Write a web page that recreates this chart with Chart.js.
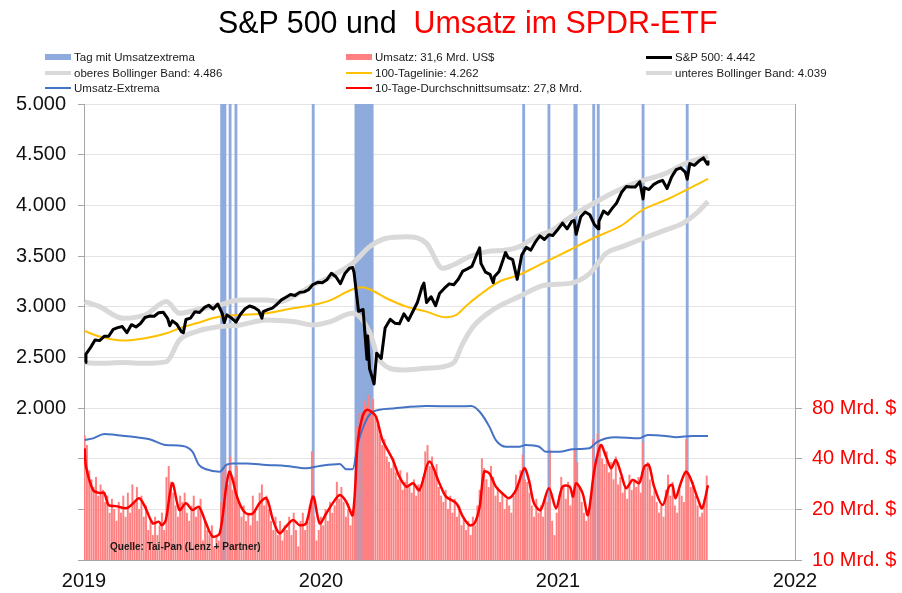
<!DOCTYPE html>
<html>
<head>
<meta charset="utf-8">
<script src="https://cdn.jsdelivr.net/npm/chart.js@4/dist/chart.umd.min.js"></script>
<style>
  html, body { margin:0; padding:0; background:#fff; }
  #wrap { position:relative; width:902px; height:593px; overflow:hidden; font-family:'Liberation Sans', Arial, sans-serif; }
  #c { position:absolute; left:0; top:0; }
  #title { position:absolute; left:218px; top:5px; font-size:32px; line-height:34px; white-space:pre; transform:scaleX(0.95); transform-origin:0 0; color:#000; }
  #title .red { color:#ff0000; }
  .lg { position:absolute; height:15px; display:flex; align-items:center; font-size:11.5px; color:#1a1a1a; white-space:pre; }
  .lg .sym { display:inline-block; width:26px; margin-right:3px; }
  #src { position:absolute; left:110px; top:541px; font-size:10px; font-weight:bold; color:#1a1a1a; white-space:pre; }
</style>
</head>
<body>
<div id="wrap">
  <canvas id="c" width="902" height="593"></canvas>
  <div id="title">S&amp;P 500 und  <span class="red">Umsatz im SPDR-ETF</span></div>
  <div id="legend"></div>
  <div id="src">Quelle: Tai-Pan (Lenz + Partner)</div>
</div>
<script>
// ---------------- DATA ----------------
const xTickYears = [2019, 2020, 2021, 2022];
const leftTicks = [500, 1000, 1500, 2000, 2500, 3000, 3500, 4000, 4500, 5000];
const rightTicks = [10, 20, 40, 80];

// S&P 500 (weekly closes plus notable turning points)
const spDates = [
'2019-01-03','2019-01-04','2019-01-11','2019-01-18','2019-01-25','2019-02-01','2019-02-08','2019-02-15','2019-02-22','2019-03-01','2019-03-08','2019-03-15','2019-03-22','2019-03-29','2019-04-05','2019-04-12','2019-04-19','2019-04-26','2019-05-03','2019-05-10','2019-05-13','2019-05-17','2019-05-24','2019-05-31','2019-06-03','2019-06-07','2019-06-14','2019-06-21','2019-06-28','2019-07-05','2019-07-12','2019-07-19','2019-07-26','2019-08-02','2019-08-05','2019-08-09','2019-08-16','2019-08-23','2019-08-30','2019-09-06','2019-09-13','2019-09-20','2019-09-27','2019-10-02','2019-10-04','2019-10-11','2019-10-18','2019-10-25','2019-11-01','2019-11-08','2019-11-15','2019-11-22','2019-11-29','2019-12-06','2019-12-13','2019-12-20','2019-12-27',
'2020-01-03','2020-01-10','2020-01-17','2020-01-24','2020-01-31','2020-02-07','2020-02-14','2020-02-19','2020-02-21','2020-02-28','2020-03-06','2020-03-12','2020-03-13','2020-03-16','2020-03-20','2020-03-23','2020-03-27','2020-04-03','2020-04-09','2020-04-17','2020-04-24','2020-05-01','2020-05-08','2020-05-15','2020-05-22','2020-05-29','2020-06-05','2020-06-08','2020-06-12','2020-06-19','2020-06-26','2020-07-02','2020-07-10','2020-07-17','2020-07-24','2020-07-31','2020-08-07','2020-08-14','2020-08-21','2020-08-28','2020-09-02','2020-09-04','2020-09-11','2020-09-18','2020-09-23','2020-09-25','2020-10-02','2020-10-09','2020-10-12','2020-10-16','2020-10-23','2020-10-30','2020-11-06','2020-11-13','2020-11-20','2020-11-27','2020-12-04','2020-12-11','2020-12-18','2020-12-24','2020-12-31',
'2021-01-08','2021-01-15','2021-01-22','2021-01-26','2021-01-29','2021-02-05','2021-02-12','2021-02-19','2021-02-26','2021-03-04','2021-03-05','2021-03-12','2021-03-19','2021-03-26','2021-04-01','2021-04-09','2021-04-16','2021-04-23','2021-04-30','2021-05-07','2021-05-12','2021-05-14','2021-05-21','2021-05-28','2021-06-04','2021-06-11','2021-06-18','2021-06-25','2021-07-02','2021-07-09','2021-07-16','2021-07-19','2021-07-23','2021-07-30','2021-08-06','2021-08-13','2021-08-19','2021-08-20'];
const spValues = [
2448,2532,2596,2671,2665,2707,2708,2776,2793,2804,2743,2822,2800,2834,2893,2907,2905,2940,2946,2881,2812,2860,2826,2752,2744,2873,2887,2950,2942,2990,3014,2977,3026,2932,2844,2919,2889,2847,2926,2979,3007,2992,2962,2887,2952,2970,2986,3023,3067,3093,3120,3110,3141,3146,3169,3221,3240,
3235,3265,3330,3295,3226,3328,3380,3386,3338,2954,2972,2480,2711,2386,2305,2237,2541,2489,2790,2875,2837,2831,2930,2864,2955,3044,3194,3232,3041,3098,3009,3130,3185,3225,3216,3271,3351,3373,3397,3508,3580,3427,3341,3319,3237,3298,3348,3477,3534,3484,3465,3270,3509,3585,3558,3638,3699,3663,3709,3703,3756,
3825,3768,3841,3850,3714,3887,3934,3907,3811,3768,3842,3943,3913,3975,4020,4129,4185,4180,4181,4233,4063,4174,4156,4204,4230,4247,4166,4281,4352,4370,4327,4258,4412,4395,4437,4468,4405,4442];

// 100-day line
const maDates = ['2019-01-02','2019-01-25','2019-03-02','2019-04-05','2019-05-08','2019-05-28','2019-06-23','2019-07-29','2019-08-29','2019-10-09','2019-11-19','2019-12-20','2020-01-14','2020-02-19','2020-03-05','2020-03-16','2020-04-11','2020-05-12','2020-06-12','2020-07-12','2020-07-28','2020-08-12','2020-09-02','2020-10-02','2020-11-02','2020-11-28','2020-12-24','2021-01-19','2021-02-24','2021-04-10','2021-05-11','2021-06-16','2021-07-17','2021-08-20'];
const maValues = [2760,2705,2665,2688,2737,2787,2836,2902,2918,2935,2984,3017,3060,3172,3192,3172,3083,3000,2951,2895,2918,3007,3116,3246,3313,3395,3477,3559,3675,3806,3954,4053,4151,4262];

// upper Bollinger band
const bbUpDates = ['2019-01-02','2019-01-25','2019-03-02','2019-04-05','2019-05-08','2019-05-28','2019-06-23','2019-07-29','2019-08-29','2019-10-09','2019-10-29','2019-11-19','2019-12-20','2020-01-14','2020-02-19','2020-03-16','2020-04-11','2020-05-12','2020-06-12','2020-07-07','2020-07-23','2020-08-17','2020-09-13','2020-10-13','2020-11-02','2020-11-28','2020-12-24','2021-01-19','2021-03-06','2021-04-10','2021-05-06','2021-06-16','2021-07-17','2021-08-20'];
const bbUpValues = [3050,3000,2886,2918,3050,2935,2967,3017,3066,3066,3050,3099,3214,3290,3428,3592,3675,3691,3625,3378,3411,3493,3543,3559,3592,3691,3757,3880,4053,4168,4234,4316,4415,4486];

// lower Bollinger band
const bbLoDates = ['2019-01-02','2019-01-25','2019-03-02','2019-04-05','2019-05-08','2019-05-28','2019-06-23','2019-07-29','2019-08-29','2019-10-09','2019-11-19','2019-12-20','2020-01-14','2020-02-19','2020-03-16','2020-03-31','2020-05-07','2020-06-12','2020-07-23','2020-08-07','2020-08-23','2020-09-22','2020-11-02','2020-12-13','2021-01-19','2021-02-19','2021-03-16','2021-04-10','2021-05-06','2021-06-16','2021-07-12','2021-08-02','2021-08-20'];
const bbLoValues = [2448,2441,2448,2441,2458,2671,2754,2803,2819,2869,2853,2819,2850,2935,2750,2474,2375,2392,2441,2638,2803,2967,3099,3214,3230,3329,3526,3592,3658,3757,3822,3921,4039];

// daily turnover (Mrd. US$), sampled twice per week from 2019-01-02
const volStart = '2019-01-02';
const volStepDays = 3.5;
const volValues = [
55,48,34,30,27,31,24,28,26,22, 24,19,23,20,17,22,19,24,18,25, 19,28,22,27,20,24,18,21,15,17,
14,18,14,16,19,15,31,36,29,25, 21,18,24,22,25,19,17,21,24,18, 20,23,13,17,15,14,16,12,14,13,
22,33,37,28,41,26,31,36,22,18, 21,17,19,16,24,20,17,25,28,21, 24,20,17,15,18,14,17,13,16,15,
18,14,19,15,12,17,19,15,17,21, 44,18,13,15,18,16,20,17,22,19, 21,29,23,27,22,18,20,16,19,22,
62,75,70,88,82,95,78,90,72,64, 55,48,52,41,38,35,40,33,30,34, 26,29,33,27,25,30,24,28,26,31,
44,48,36,41,33,37,27,24,22,26, 20,24,19,23,18,21,16,18,15,17, 14,18,16,21,26,40,35,30,27,36,
31,24,27,22,25,20,23,21,19,24, 32,28,34,42,30,29,25,21,18,23, 19,21,18,24,22,45,17,14,19,24,
31,27,23,29,21,24,45,38,27,22, 19,17,20,24,52,38,56,46,40,37, 44,33,38,30,41,28,31,25,27,23,
32,26,30,27,31,25,50,35,38,30, 24,26,22,19,21,18,26,32,24,29, 21,19,26,24,22,52,31,27,29,24,
21,18,19,23,31.6];

// 10-day average turnover
const avgDates = ['2019-01-02','2019-01-04','2019-01-15','2019-01-25','2019-02-01','2019-02-08','2019-02-19','2019-03-07','2019-03-15','2019-03-27','2019-04-05','2019-04-17','2019-04-26','2019-05-01','2019-05-07','2019-05-17','2019-05-28','2019-06-07','2019-06-17','2019-06-27','2019-07-08','2019-07-18','2019-07-29','2019-08-08','2019-08-13','2019-08-18','2019-08-23','2019-08-31','2019-09-08','2019-09-18','2019-09-28','2019-10-09','2019-10-19','2019-10-29','2019-11-08','2019-11-19','2019-11-29','2019-12-09','2019-12-20','2019-12-30',
'2020-01-09','2020-01-19','2020-01-30','2020-02-09','2020-02-19','2020-02-27','2020-03-05','2020-03-11','2020-03-18','2020-03-26','2020-04-05','2020-04-21','2020-05-01','2020-05-12','2020-05-22','2020-06-01','2020-06-16','2020-07-02','2020-07-12','2020-07-28','2020-08-07','2020-08-17','2020-08-25','2020-09-02','2020-09-09','2020-09-17','2020-09-27','2020-10-07','2020-10-17','2020-10-28','2020-11-10','2020-11-17','2020-11-25','2020-12-05','2020-12-18','2020-12-29',
'2021-01-08','2021-01-19','2021-01-24','2021-01-29','2021-02-08','2021-02-16','2021-02-26','2021-03-08','2021-03-16','2021-03-24','2021-03-31','2021-04-08','2021-04-16','2021-04-26','2021-05-06','2021-05-14','2021-05-21','2021-05-29','2021-06-11','2021-06-21','2021-06-26','2021-07-01','2021-07-09','2021-07-17','2021-07-24','2021-08-04','2021-08-11','2021-08-20'];
const avgValues = [46,36,26,25,25.1,21.2,20.9,20.3,21.2,23.3,20.7,16.5,16.9,16.1,17.3,28.6,19.8,21.7,19.8,20.7,16.5,13.8,14.4,27.3,33.5,29.9,24.9,20.7,18.9,18.9,21.7,23.3,17.3,14.4,15.8,17.3,16.1,16.5,23.8,16.5,
18.9,21.7,24.3,22.2,18.5,51.6,71.1,77.8,76.4,71.1,51.6,39.3,31.3,27.3,28.6,26.0,38.4,28.5,23.8,21.7,18.1,16.1,16.5,20.7,33.5,32.7,27.3,24.9,23.3,26.0,35.1,29.9,21.7,19.8,26.7,20.3,
27.3,27.3,23.8,28.6,24.9,18.5,34.3,48.2,41.1,35.1,39.3,32.7,26.7,29.9,28.6,35.8,36.7,27.3,21.2,27.3,27.9,23.3,28.6,33.5,30.6,23.3,20.3,27.8];

// Umsatz-Extrema threshold
const extDates = ['2019-01-02','2019-01-15','2019-02-01','2019-02-19','2019-03-23','2019-04-12','2019-05-07','2019-06-02','2019-06-17','2019-06-27','2019-07-08','2019-07-29','2019-08-08','2019-08-18','2019-09-08','2019-10-09','2019-11-08','2019-12-09','2019-12-30','2020-01-30','2020-02-09','2020-02-19','2020-02-27','2020-03-11','2020-03-21','2020-04-21','2020-06-11','2020-08-02','2020-08-20','2020-09-02','2020-09-17','2020-09-27','2020-10-13','2020-11-02','2020-11-12','2020-12-03','2020-12-13','2021-01-03','2021-01-24','2021-02-18','2021-03-03','2021-03-31','2021-05-06','2021-05-19','2021-06-16','2021-07-02','2021-07-27','2021-08-20'];
const extValues = [51.6,52.8,56.1,55.3,53.6,52.2,48.2,47.6,44.0,36.7,34.6,33.5,36.7,37.5,37.5,36.7,36.2,35.1,36.2,37.2,34.6,34.6,49.3,67.9,76.0,79.5,82.2,81.8,82.2,76.0,62.0,51.6,47.1,47.1,48.2,47.1,44.0,44.0,45.5,46.1,50.5,53.6,52.8,55.3,54.6,53.6,54.6,54.6];

// days with turnover extremes
const extremeDays = ['2019-08-01','2019-08-05','2019-08-06','2019-08-14','2019-08-23','2019-12-20',
'2020-02-24','2020-02-25','2020-02-26','2020-02-27','2020-02-28','2020-03-02','2020-03-03','2020-03-04','2020-03-05','2020-03-06','2020-03-09','2020-03-10','2020-03-11','2020-03-12','2020-03-13','2020-03-16','2020-03-17','2020-03-18','2020-03-19','2020-03-20',
'2020-11-09','2020-12-18','2021-01-27','2021-01-29','2021-02-25','2021-03-04','2021-05-12','2021-07-19'];

// ---------------- HELPERS ----------------
function yearFrac(ms) {
  const d = new Date(ms);
  const y = d.getUTCFullYear();
  const s = Date.UTC(y, 0, 1), e = Date.UTC(y + 1, 0, 1);
  return y + (ms - s) / (e - s);
}
function toYear(str) { return yearFrac(Date.parse(str + 'T00:00:00Z')); }
function pairs(dates, vals) { return dates.map((d, i) => ({ x: toYear(d), y: vals[i] })); }
function fmtDE(v) { return String(v).replace(/\B(?=(\d{3})+(?!\d))/g, '.'); }

const volStartMs = Date.parse(volStart + 'T00:00:00Z');
const volData = volValues.map((v, i) => ({ x: yearFrac(volStartMs + i * volStepDays * 86400000), y: v }));
const extremeData = extremeDays.map(d => ({ x: toYear(d), y: [leftTicks[0], leftTicks[leftTicks.length - 1]] }));

// ---------------- LEGEND (HTML) ----------------
const legendItems = [
  { t: 'Tag mit Umsatzextrema', c: '#8faadc', h: 6, col: 0, row: 0 },
  { t: 'Umsatz: 31,6 Mrd. US$', c: '#ff8080', h: 6, col: 1, row: 0 },
  { t: 'S&P 500: 4.442', c: '#000000', h: 3, col: 2, row: 0 },
  { t: 'oberes Bollinger Band: 4.486', c: '#d9d9d9', h: 4, col: 0, row: 1 },
  { t: '100-Tagelinie: 4.262', c: '#ffc000', h: 2, col: 1, row: 1 },
  { t: 'unteres Bollinger Band: 4.039', c: '#d9d9d9', h: 4, col: 2, row: 1 },
  { t: 'Umsatz-Extrema', c: '#4472c4', h: 2, col: 0, row: 2 },
  { t: '10-Tage-Durchschnittsumsatz: 27,8 Mrd.', c: '#ff0000', h: 2, col: 1, row: 2 }
];
const colX = [45, 346, 646];
const rowY = [57, 72.5, 88];
const lg = document.getElementById('legend');
legendItems.forEach(it => {
  const d = document.createElement('div');
  d.className = 'lg';
  d.style.left = colX[it.col] + 'px';
  d.style.top = (rowY[it.row] - 7.5) + 'px';
  const s = document.createElement('span');
  s.className = 'sym';
  s.style.height = it.h + 'px';
  s.style.background = it.c;
  d.appendChild(s);
  d.appendChild(document.createTextNode(it.t));
  lg.appendChild(d);
});

// ---------------- CHART ----------------
Chart.defaults.font.family = "'Liberation Sans', Arial, sans-serif";
const axisGray = '#a6a6a6';

new Chart(document.getElementById('c'), {
  type: 'bar',
  data: {
    datasets: [
      { type: 'line', label: '10-Tage-Durchschnittsumsatz', data: pairs(avgDates, avgValues), yAxisID: 'yR',
        borderColor: '#ff0000', borderWidth: 2.5, pointRadius: 0, tension: 0.3, fill: false, order: 1, clip: 0 },
      { type: 'line', label: 'Umsatz-Extrema', data: pairs(extDates, extValues), yAxisID: 'yR',
        borderColor: '#4472c4', borderWidth: 2, pointRadius: 0, tension: 0.3, cubicInterpolationMode: 'monotone', fill: false, order: 2, clip: 0 },
      { type: 'line', label: 'S&P 500', data: pairs(spDates, spValues), yAxisID: 'yL',
        borderColor: '#000000', borderWidth: 3, pointRadius: 0, tension: 0, borderJoinStyle: 'round', fill: false, order: 3, clip: 0 },
      { type: 'line', label: '100-Tagelinie', data: pairs(maDates, maValues), yAxisID: 'yL',
        borderColor: '#ffc000', borderWidth: 2, pointRadius: 0, cubicInterpolationMode: 'monotone', fill: false, order: 4, clip: 0 },
      { type: 'line', label: 'unteres Bollinger Band', data: pairs(bbLoDates, bbLoValues), yAxisID: 'yL',
        borderColor: '#d9d9d9', borderWidth: 5, pointRadius: 0, cubicInterpolationMode: 'monotone', fill: false, order: 5, clip: 0 },
      { type: 'line', label: 'oberes Bollinger Band', data: pairs(bbUpDates, bbUpValues), yAxisID: 'yL',
        borderColor: '#d9d9d9', borderWidth: 5, pointRadius: 0, cubicInterpolationMode: 'monotone', fill: false, order: 6, clip: 0 },
      { type: 'bar', label: 'Umsatz', data: volData, yAxisID: 'yR', xAxisID: 'x',
        backgroundColor: '#ff8080', barThickness: 1.3, grouped: false, order: 7, clip: 0 },
      { type: 'bar', label: 'Tag mit Umsatzextrema', data: extremeData, yAxisID: 'yL', xAxisID: 'x',
        backgroundColor: '#8faadc', barThickness: 2.2, grouped: false, order: 8, clip: 0 }
    ]
  },
  options: {
    responsive: false,
    animation: false,
    events: [],
    layout: { padding: { top: 104, left: 0, right: 0, bottom: 0 } },
    plugins: { legend: { display: false }, title: { display: false }, tooltip: { enabled: false } },
    scales: {
      x: {
        type: 'linear', position: 'bottom', min: xTickYears[0], max: xTickYears[xTickYears.length - 1],
        offset: false,
        grid: { display: false, drawTicks: false, tickLength: 0, offset: false },
        border: { display: true, color: axisGray, width: 1 },
        afterBuildTicks: s => { s.ticks = xTickYears.map(v => ({ value: v })); },
        ticks: { color: '#111', font: { size: 20 }, padding: 9, maxRotation: 0, autoSkip: false, callback: v => String(v) },
        afterFit: s => { s.height = 33; }
      },
      yL: {
        type: 'linear', position: 'left', min: leftTicks[0], max: leftTicks[leftTicks.length - 1], beginAtZero: false,
        afterBuildTicks: s => { s.ticks = leftTicks.map(v => ({ value: v })); },
        ticks: { color: '#111', font: { size: 20 }, padding: 12, callback: v => (v >= 2000 ? fmtDE(v) : '') },
        grid: { color: '#e4e4e4', lineWidth: 1, tickColor: axisGray, tickLength: 6 },
        border: { color: axisGray, width: 1 },
        afterFit: s => { s.width = 84; }
      },
      yR: {
        type: 'logarithmic', position: 'right', min: 10, max: 5120,
        afterBuildTicks: s => { s.ticks = rightTicks.map(v => ({ value: v })); },
        ticks: { color: '#ff0000', font: { size: 20 }, padding: 10, autoSkip: false, callback: v => v + ' Mrd. $' },
        grid: { drawOnChartArea: false, tickColor: axisGray, tickLength: 7 },
        border: { color: axisGray, width: 1 },
        afterFit: s => { s.width = 107; }
      }
    }
  }
});
</script>
</body>
</html>
